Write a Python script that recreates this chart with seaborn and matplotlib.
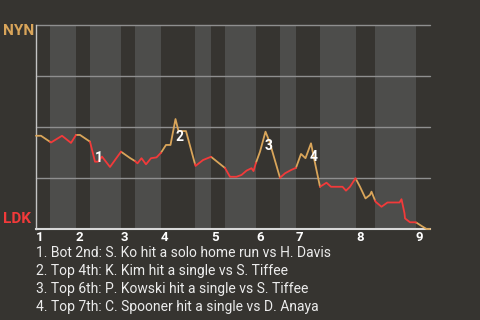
import numpy as np
import pandas as pd
import matplotlib
matplotlib.use("Agg")
import matplotlib.pyplot as plt
import seaborn as sns

# ---- data ----
# play progress (x) and NYN win probability (p)
play_x = [0, 1, 3, 5.2, 7, 8, 8.8, 10.8, 11.8, 12.4, 13.2, 14.8, 17, 18.8, 19.8,
          20.3, 21.1, 22, 23, 24.1, 25, 26, 26.9, 27.9, 28.5, 30, 31.9, 33.4, 35,
          37.8, 38.8, 40.1, 41.1, 42.1, 43.1, 43.5, 44, 44.8, 45.9, 46.7, 48.8,
          49.8, 51, 52, 53, 53.9, 55, 55.6, 56.8, 58.1, 59, 61.3, 62, 62.8, 63.9,
          64.8, 65.9, 66.8, 67.1, 67.9, 69.1, 70.3, 72.7, 73.1, 73.7, 73.8, 74.8,
          75.8, 76.1, 77.1, 78.1, 78.8]
win_prob = [.457, .457, .424, .457, .422, .461, .461, .428, .330, .330, .355, .304,
            .379, .348, .333, .322, .347, .317, .347, .351, .374, .412, .412, .539,
            .480, .480, .309, .338, .354, .299, .256, .256, .265, .286, .298, .284,
            .325, .379, .477, .428, .251, .273, .289, .300, .368, .347, .420, .347,
            .207, .227, .207, .207, .188, .207, .249, .207, .150, .167, .183, .134,
            .109, .130, .130, .146, .077, .052, .033, .033, .031, .015, 0.0, 0.0]
# half-inning boundaries (top 1, bot 1, top 2, ... top 9)
half_edges = [0, 2.8, 8, 10.8, 17, 19.8, 25, 31.8, 35, 37.8, 44, 48.8, 52, 56.8,
              64, 67.8, 76, 78.8]
inning_labels = ["1", "2", "3", "4", "5", "6", "7", "8", "9"]
events = ["1", "2", "3", "4"]
event_x = [12.6, 28.7, 46.6, 55.5]
event_p = [0.348, 0.451, 0.407, 0.353]
notes = [
    "1. Bot 2nd: S. Ko hit a solo home run vs H. Davis",
    "2. Top 4th: K. Kim hit a single vs S. Tiffee",
    "3. Top 6th: P. Kowski hit a single vs S. Tiffee",
    "4. Top 7th: C. Spooner hit a single vs D. Anaya",
]
away, home = "NYN", "LDK"

# ---- styling ----
BG = "#363430"
BAND = "#4d4d4b"
GOLD = "#d9a55a"
RED = "#f23a3a"
GRID = "#8f8f8f"
TXT = "#ececec"

sns.set_theme(style="dark")
plt.rcParams["font.family"] = ["Roboto", "DejaVu Sans"]

# build per-half-inning segments
xs = np.array(play_x)
ps = np.array(win_prob)
rows = []
for k in range(len(half_edges) - 1):
    e0, e1 = half_edges[k], half_edges[k + 1]
    team = away if k % 2 == 0 else home
    seg_x = [e0] + [x for x in xs if e0 < x < e1] + [e1]
    seg_p = np.interp(seg_x, xs, ps)
    for x, p in zip(seg_x, seg_p):
        rows.append({"x": x, "p": p, "half": k, "team": team})
df = pd.DataFrame(rows)

fig = plt.figure(figsize=(4.8, 3.2), dpi=100, facecolor=BG)
ax = fig.add_axes([36 / 480, 1 - 229 / 320, 394 / 480, 204 / 320])
ax.set_facecolor(BG)

for k in range(1, len(half_edges) - 1, 2):
    ax.axvspan(half_edges[k], half_edges[k + 1], color=BAND, lw=0, zorder=0)

for yv in [0.25, 0.5, 0.75, 1.0]:
    ax.axhline(yv, color=GRID, lw=1.0, zorder=1, clip_on=False)

sns.lineplot(data=df, x="x", y="p", units="half", hue="team", estimator=None,
             palette={away: GOLD, home: RED}, lw=1.3, legend=False, ax=ax,
             sort=False, zorder=3)
for ln in ax.lines[-(len(half_edges) - 1):]:
    ln.set_clip_on(False)

for lab, x, p in zip(events, event_x, event_p):
    ax.text(x, p, lab, color="white", fontsize=10, fontweight="bold",
            ha="center", va="center", zorder=4)

ax.set_xlim(half_edges[0], half_edges[-1])
ax.set_ylim(0, 1)
ax.set_yticks([])
ax.set_xlabel("")
ax.set_ylabel("")
top_starts = half_edges[0:-1:2]
ax.set_xticks(top_starts)
ax.set_xticklabels(inning_labels)
for t in ax.get_xticklabels():
    t.set_horizontalalignment("left")
    t.set_color("white")
    t.set_fontweight("bold")
    t.set_fontsize(9.5)
ax.tick_params(axis="x", length=0, pad=1.5)

for s in ["top", "right"]:
    ax.spines[s].set_visible(False)
ax.spines["left"].set_color("#c4c4c4")
ax.spines["left"].set_linewidth(1.0)
ax.spines["bottom"].set_color("#d8d8d8")
ax.spines["bottom"].set_linewidth(1.5)

fig.text(3 / 480, 1 - 31 / 320, away, color=GOLD, fontsize=11,
         fontweight="bold", ha="left", va="center")
fig.text(3 / 480, 1 - 219 / 320, home, color=RED, fontsize=11,
         fontweight="bold", ha="left", va="center")

for i, line in enumerate(notes):
    fig.text(36 / 480, 1 - (253 + 18 * i) / 320, line, color=TXT, fontsize=10,
             ha="left", va="center")

fig.savefig("out.png", dpi=100, facecolor=BG)
